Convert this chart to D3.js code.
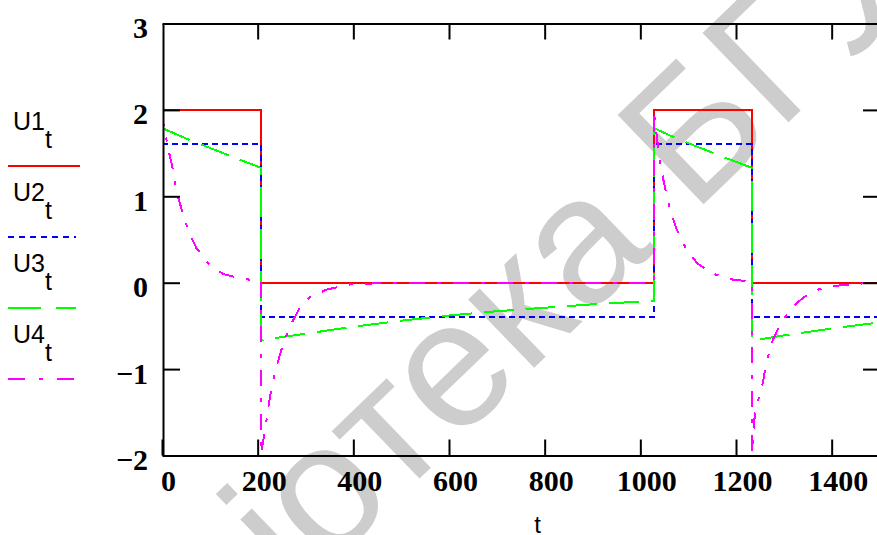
<!DOCTYPE html>
<html>
<head>
<meta charset="utf-8">
<script src="https://cdnjs.cloudflare.com/ajax/libs/d3/7.8.5/d3.min.js"></script>
<style>
  html, body { margin: 0; padding: 0; background: #fff; }
  svg { display: block; }
</style>
</head>
<body>
<svg id="chart" width="877" height="535"></svg>
<script>
// Pulse response of the circuit: input U1 and responses U2..U4 versus sample index t
const xTicks = [0, 200, 400, 600, 800, 1000, 1200, 1400];
const yTicks = [-2, -1, 0, 1, 2, 3];
const seriesNames = ["U1", "U2", "U3", "U4"];

const tU1 = [0, 207, 207, 1028, 1028, 1233, 1233, 1500];
const vU1 = [2, 2, 0, 0, 2, 2, 0, 0];

const tU2 = [0, 207, 207, 1028, 1028, 1233, 1233, 1500];
const vU2 = [1.6, 1.6, -0.4, -0.4, 1.6, 1.6, -0.4, -0.4];

const tU3 = [0, 50, 100, 150, 207, 207, 250, 300, 400, 500, 600, 700, 800, 900, 1028,
             1028, 1080, 1130, 1180, 1233, 1233, 1300, 1400, 1500];
const vU3 = [1.79, 1.67, 1.56, 1.45, 1.33, -0.67, -0.63, -0.59, -0.51, -0.44, -0.38, -0.33, -0.29, -0.25, -0.21,
             1.79, 1.66, 1.55, 1.44, 1.33, -0.67, -0.61, -0.53, -0.46];

const tU4 = [0, 4, 13, 22, 29, 42, 55, 72, 97, 128, 167, 198, 207,
             207, 215, 222, 229, 240, 251, 268, 288, 309, 344, 393, 435, 500, 1028,
             1028, 1034, 1041, 1050, 1061, 1075, 1092, 1118, 1149, 1188, 1219, 1233,
             1233, 1240, 1254, 1263, 1275, 1289, 1313, 1341, 1376, 1417, 1460, 1500];
const vU4 = [2.0, 1.8, 1.55, 1.33, 1.08, 0.83, 0.60, 0.40, 0.22, 0.10, 0.045, 0.027, 0.02,
             -1.98, -1.72, -1.45, -1.21, -0.96, -0.75, -0.50, -0.29, -0.17, -0.08, -0.02, -0.01, 0, 0,
             2.0, 1.71, 1.39, 1.14, 0.87, 0.63, 0.43, 0.23, 0.11, 0.04, 0.02, 0.015,
             -1.98, -1.48, -1.22, -0.94, -0.69, -0.52, -0.31, -0.17, -0.07, -0.03, -0.01, 0];

const colors = ["#ff0000", "#0000ff", "#00ff00", "#ff00ff"];
const dashes = [null, "6,4", "30,12", "16,12,4,12"];

const svg = d3.select("#chart");
const plotLeft = 163, plotRight = 879, plotTop = 23.5, plotBottom = 455.5;

const x = d3.scaleLinear().domain([0, 1500]).range([162, 879.5]);
const y = d3.scaleLinear().domain([-2, 3]).range([plotBottom, plotTop]);

// Watermark behind the plot
svg.append("text")
  .attr("transform", "translate(40,845) rotate(-44)")
  .attr("font-family", "Liberation Sans, Arial, sans-serif")
  .attr("font-size", 180)
  .attr("fill", "#cdcdcd")
  .text("Бібліотека БГУИР");

// Plot lines
const series = [
  { t: tU1, v: vU1 },
  { t: tU2, v: vU2 },
  { t: tU3, v: vU3 },
  { t: tU4, v: vU4 }
];

svg.append("clipPath").attr("id", "plotclip")
  .append("rect").attr("x", plotLeft).attr("y", plotTop - 1)
  .attr("width", plotRight - plotLeft).attr("height", plotBottom - plotTop + 2);

const line = d3.line().x(d => x(d[0])).y(d => y(d[1]));
const plot = svg.append("g").attr("clip-path", "url(#plotclip)");
series.forEach((s, i) => {
  plot.append("path")
    .datum(s.t.map((t, k) => [t, s.v[k]]))
    .attr("d", line)
    .attr("fill", "none")
    .attr("stroke", colors[i])
    .attr("stroke-width", 2)
    .attr("shape-rendering", "crispEdges")
    .attr("stroke-dasharray", dashes[i]);
});

// Axes and frame
const fmt = d => d < 0 ? "\u2212" + Math.abs(d) : String(d);

const gx = svg.append("g").attr("transform", `translate(0,${plotBottom})`)
  .call(d3.axisBottom(x).tickValues(xTicks).tickSizeInner(-16).tickSizeOuter(0).tickFormat(fmt));
gx.selectAll("text").attr("y", 35).attr("dy", null).attr("dx", 6);

const gxTop = svg.append("g").attr("transform", `translate(0,${plotTop})`)
  .call(d3.axisTop(x).tickValues(xTicks.slice(1)).tickSizeInner(-16).tickSizeOuter(0).tickFormat(""));

const gy = svg.append("g").attr("transform", `translate(${plotLeft},0)`)
  .call(d3.axisLeft(y).tickValues(yTicks).tickSizeInner(-17).tickSizeOuter(0).tickPadding(15).tickFormat(fmt));
gy.selectAll("text").attr("dy", null).attr("y", 14);

const gyRight = svg.append("g").attr("transform", `translate(${plotRight},0)`)
  .call(d3.axisRight(y).tickValues(yTicks).tickSizeInner(-16).tickSizeOuter(0).tickFormat(""));

[gx, gxTop, gy, gyRight].forEach(g => {
  g.select(".domain").attr("stroke", "#000").attr("stroke-width", 2);
  g.selectAll(".tick line").attr("stroke", "#000").attr("stroke-width", 2);
  g.selectAll("text")
    .attr("font-family", "Liberation Serif, Times New Roman, serif")
    .attr("font-weight", "bold")
    .attr("font-size", 30)
    .attr("fill", "#000");
});

// Axis title
svg.append("text")
  .attr("x", x(785)).attr("y", 533)
  .attr("text-anchor", "middle")
  .attr("font-family", "Liberation Sans, Arial, sans-serif")
  .attr("font-size", 24)
  .text("t");

// Legend
const legend = svg.append("g");
seriesNames.forEach((name, i) => {
  const base = 130 + i * 71;
  const label = legend.append("text")
    .attr("x", 13).attr("y", base)
    .attr("font-family", "Liberation Sans, Arial, sans-serif")
    .attr("font-size", 25)
    .attr("fill", "#000");
  label.append("tspan").text(name);
  label.append("tspan").attr("dy", 18).text("t");
  legend.append("line")
    .attr("x1", 8).attr("x2", i === 0 ? 80 : 76)
    .attr("y1", base + 36).attr("y2", base + 36)
    .attr("stroke", colors[i]).attr("stroke-width", 2)
    .attr("stroke-dasharray", i === 1 ? "6,5" : i === 2 ? "33,15" : i === 3 ? "17,14,4,14" : null);
});
</script>
</body>
</html>
